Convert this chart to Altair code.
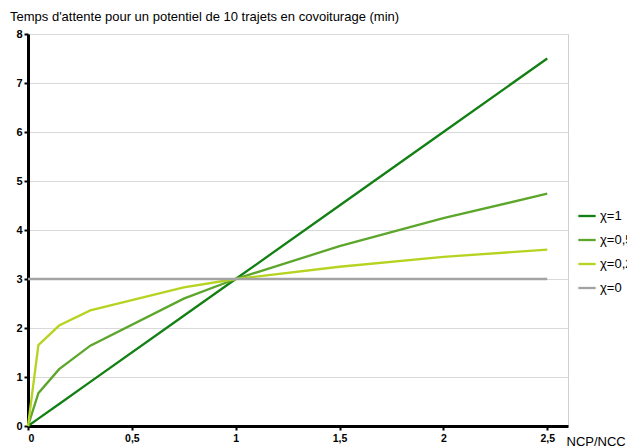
import altair as alt
import pandas as pd

x_vals = [0, 0.05, 0.15, 0.3, 0.75, 1, 1.5, 2, 2.5]
chi_1 = [0, 0.15, 0.45, 0.9, 2.25, 3, 4.5, 6, 7.5]
chi_05 = [0, 0.67, 1.16, 1.64, 2.6, 3, 3.67, 4.24, 4.74]
chi_02 = [0, 1.65, 2.05, 2.36, 2.83, 3, 3.25, 3.45, 3.6]
chi_0 = [3, 3, 3, 3, 3, 3, 3, 3, 3]

series_names = ["χ=1", "χ=0,5", "χ=0,2", "χ=0"]
series_vals = [chi_1, chi_05, chi_02, chi_0]
colors = ["#138013", "#5ca62c", "#b5d421", "#a3a3a3"]

rows = []
for name, vals in zip(series_names, series_vals):
    for i, (x, y) in enumerate(zip(x_vals, vals)):
        rows.append({"x": x, "y": y, "serie": name, "ord": i})
df = pd.DataFrame(rows)

FONT = "Liberation Sans"

chart = alt.Chart(df).mark_line(strokeWidth=2.3).encode(
    x=alt.X("x:Q",
            scale=alt.Scale(domain=[0, 2.6], nice=False, zero=True),
            axis=alt.Axis(values=[0, 0.5, 1, 1.5, 2, 2.5],
                          labelExpr="replace(format(datum.value, '.1~f'), '.', ',')",
                          title="NCP/NCC", titleX=538, titleY=15,
                          titleAlign="left", titleBaseline="middle",
                          titleFontWeight="normal", titleFontSize=13,
                          grid=False, domainWidth=3, domainColor="black",
                          tickColor="black", tickSize=4, tickWidth=2,
                          labelFontWeight="bold", labelFontSize=10.5,
                          labelPadding=3, labelFont=FONT, titleFont=FONT)),
    y=alt.Y("y:Q",
            scale=alt.Scale(domain=[0, 8], nice=False),
            axis=alt.Axis(values=[0, 1, 2, 3, 4, 5, 6, 7, 8], title=None,
                          grid=True, gridColor="#d9d9d9", gridWidth=1,
                          domainWidth=3, domainColor="black",
                          tickColor="black", tickSize=4, tickWidth=2,
                          labelFontWeight="bold", labelFontSize=11,
                          labelPadding=2, labelFont=FONT)),
    color=alt.Color("serie:N",
                    scale=alt.Scale(domain=series_names, range=colors),
                    legend=alt.Legend(title=None, orient="none",
                                      legendX=549, legendY=172,
                                      symbolType="stroke", symbolSize=300,
                                      symbolStrokeWidth=2.3,
                                      labelFontSize=13, labelFont=FONT,
                                      rowPadding=7, labelOffset=3)),
    order="ord:Q",
).properties(
    width=540,
    height=392,
    title=alt.TitleParams("Temps d'attente pour un potentiel de 10 trajets en covoiturage (min)",
                          anchor="start", dx=-18, fontSize=13, fontWeight="normal",
                          font=FONT, offset=4, frame="group"),
    padding={"left": 20, "top": 26, "right": 59, "bottom": 22},
    autosize=alt.AutoSizeParams(type="none"),
).configure_view(stroke="#d0d0d0", strokeWidth=1)

chart.save("out.html", embed_options={"renderer": "svg", "actions": False})
